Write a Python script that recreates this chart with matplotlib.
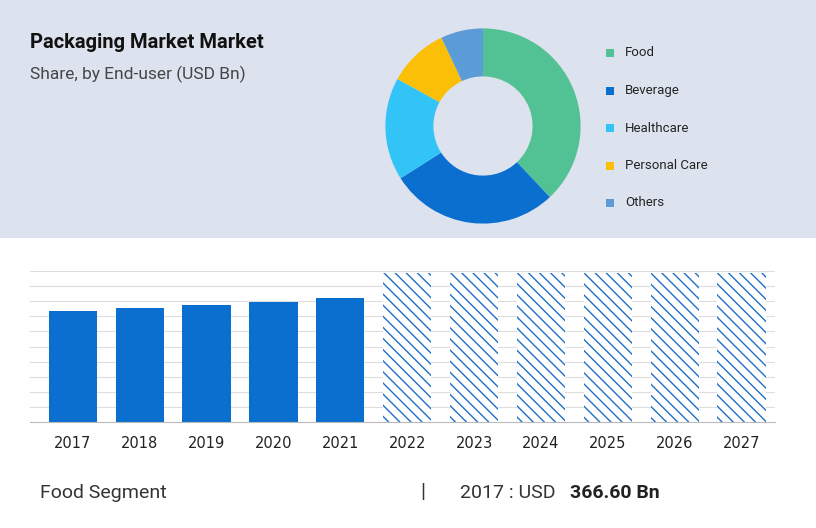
import matplotlib
matplotlib.use("Agg")
import matplotlib.pyplot as plt
from matplotlib.patches import Rectangle

segments = ["Food", "Beverage", "Healthcare", "Personal Care", "Others"]
shares = [38, 28, 17, 10, 7]
seg_colors = ["#52c194", "#0a6fcf", "#33c4f7", "#fbbf08", "#5b9bd8"]
years = ["2017", "2018", "2019", "2020", "2021", "2022", "2023", "2024", "2025", "2026", "2027"]
values = [366.6, 376, 386, 399, 410, 495, 495, 495, 495, 495, 495]
forecast = [False]*5 + [True]*6

W, H = 816, 528
plt.rcParams["hatch.linewidth"] = 1.0
fig = plt.figure(figsize=(W/100, H/100), dpi=100)
fig.patch.set_facecolor("white")
def ax_px(x, y, w, h):
    return fig.add_axes([x/W, 1-(y+h)/H, w/W, h/H])

bg = ax_px(0, 0, W, 238)
bg.set_facecolor("#dde3ee"); bg.set_xticks([]); bg.set_yticks([])
for s in bg.spines.values(): s.set_visible(False)

fig.text(30/W, 1-43/H, "Packaging Market Market", fontsize=14.5, fontweight="bold",
         family="Roboto", color="#111111", va="center")
fig.text(30/W, 1-74/H, "Share, by End-user (USD Bn)", fontsize=12.5, family="Roboto",
         color="#444444", va="center")

pax = ax_px(383, 26, 200, 200)
pax.pie(shares, colors=seg_colors, startangle=90, counterclock=False,
        wedgeprops=dict(width=0.6, edgecolor="none"), radius=1.22)
pax.set_xlim(-1.25, 1.25); pax.set_ylim(-1.25, 1.25)
pax.set_aspect("equal")

for i, (s, c) in enumerate(zip(segments, seg_colors)):
    y = 53 + i*37.5
    fig.patches.append(Rectangle((606/W, 1-(y+4)/H), 8/W, 8/H, transform=fig.transFigure,
                                 facecolor=c, edgecolor="none"))
    fig.text(625/W, 1-y/H, s, fontsize=9.5, family="Roboto", color="#222222", va="center")

ax = ax_px(30, 271, 745, 151)
x = range(len(years))
for xi, v, f in zip(x, values, forecast):
    if f:
        ax.bar(xi, v, width=0.72, facecolor="white", edgecolor="#1f6fc8", hatch="\\\\\\",
               linewidth=0, zorder=2)
    else:
        ax.bar(xi, v, width=0.72, color="#0a6fcf", zorder=2)
ax.set_xlim(-0.64, len(years)-0.5)
ax.set_ylim(0, 500)
ax.set_yticks([i*50 for i in range(11)])
ax.yaxis.grid(True, color="#dddddd", linewidth=0.8, zorder=0)
ax.tick_params(axis="y", left=False, labelleft=False)
ax.tick_params(axis="x", length=0, pad=10, labelsize=10.5, labelcolor="#222222")
ax.set_xticks(list(x)); ax.set_xticklabels(years)
for s in ax.spines.values(): s.set_visible(False)
ax.spines["bottom"].set_visible(True); ax.spines["bottom"].set_color("#bbbbbb")

fig.text(40/W, 1-493/H, "Food Segment", fontsize=14, family="Roboto", color="#333333", va="center")
fig.text(420/W, 1-493/H, "|", fontsize=15, family="Roboto", color="#333333", va="center")
fig.text(460/W, 1-493/H, "2017 : USD ", fontsize=14, family="Roboto", color="#333333", va="center")
fig.text(570/W, 1-493/H, "366.60 Bn", fontsize=14, family="Roboto", fontweight="bold",
         color="#222222", va="center")

fig.savefig("out.png", dpi=100)
